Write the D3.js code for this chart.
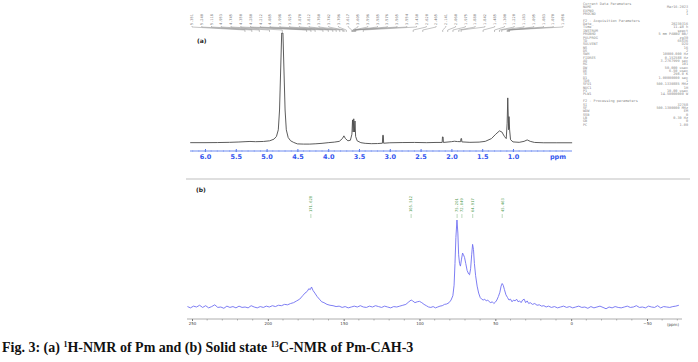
<!DOCTYPE html>
<html>
<head>
<meta charset="utf-8">
<script src="https://cdn.jsdelivr.net/npm/d3@7/dist/d3.min.js"></script>
<style>
html,body{margin:0;padding:0;background:#fff;}
svg{display:block;}
</style>
</head>
<body>
<svg id="chart" width="698" height="362"></svg>
<script>
// ---------- DATA ----------
// (a) 1H-NMR spectrum: [ppm, intensity]
const protonSpectrum = [
[6.24,0.3],[6.0,0.3],[5.8,0.4],[5.6,0.6],[5.45,0.9],[5.35,1.2],[5.27,1.4],[5.18,1.2],[5.05,1.4],
[4.95,2],[4.88,3.5],[4.84,6],[4.81,12],[4.79,30],[4.77,70],[4.755,100],[4.735,100],[4.72,70],
[4.70,30],[4.68,12],[4.65,5],[4.61,2],[4.56,0.5],[4.5,-0.8],[4.4,-1],[4.3,-1],[4.2,-0.7],[4.1,-0.3],
[4.0,0.3],[3.9,0.8],[3.82,1.5],[3.77,4],[3.745,6.5],[3.72,4],[3.68,2],[3.64,2.5],[3.615,8],[3.605,21],
[3.595,10],[3.585,22],[3.575,10],[3.565,20],[3.555,6],[3.53,2],[3.47,0.3],[3.4,-0.3],[3.3,-0.6],
[3.2,-0.5],[3.12,-0.2],[3.115,7],[3.105,7],[3.10,-0.2],[3.0,0.2],[2.8,0.4],[2.6,0.5],[2.4,0.3],
[2.25,0.5],[2.15,0.5],[2.145,5.5],[2.135,5.5],[2.13,0.5],[2.0,1.2],[1.95,1.6],[1.9,1.3],[1.85,1.2],
[1.845,4],[1.835,4],[1.83,1],[1.7,0.6],[1.55,0.8],[1.45,1.5],[1.35,4],[1.28,8],[1.22,11],[1.18,10],
[1.14,6],[1.11,4],[1.095,18],[1.085,41],[1.075,20],[1.07,12],[1.065,24],[1.055,12],[1.04,3],[1.0,1],
[0.9,0.6],[0.82,1.5],[0.77,2.8],[0.72,1.5],[0.65,0.5],[0.5,0.2],[0.3,0.2],[0.04,0.2]
];
const protonTicks = [6.0,5.5,5.0,4.5,4.0,3.5,3.0,2.5,2.0,1.5,1.0];
const protonPeakLabels = [5.351,5.240,5.118,4.953,4.745,4.350,4.280,4.212,4.085,3.998,3.925,3.870,
3.812,3.760,3.742,3.706,3.617,3.605,3.596,3.585,3.576,3.565,3.554,3.430,2.620,2.465,2.141,2.060,
1.975,1.880,1.842,1.485,1.300,1.220,1.183,1.095,1.083,1.070,1.058];

// (b) solid state 13C-NMR spectrum: [ppm, intensity]
const carbonSpectrum = [
[253,0.5],[251,-1],[249,1],[247,0],[245,2],[243,-0.5],[241,1.5],[239,-1],[237,0.5],[235,2.5],
[233,-0.5],[231,0],[229,-1.5],[227,1],[225,-0.5],[223,0.5],[221,-1],[219,1],[217,-0.5],[215,0],
[213,-1],[211,1.5],[209,0],[207,-1],[205,0.5],[203,-0.5],[201,1],[199,0],[197,1.5],[195,0.5],
[193,2],[191,1.5],[189,3],[187,2.5],[185,4],[183,5],[181,7],[179,9],[177,13],[175.5,16],[174,18],
[173,21],[172,20],[171.2,23],[170.2,19],[169,16],[167.5,12],[166,9],[164.5,6],[163,5],[161,3],
[159,2],[157,1.5],[155,0.5],[153,1],[151,-0.5],[149,0.5],[147,-1],[145,0],[143,1],[141,0],
[139,1.5],[137,0],[135,-0.5],[133,1],[131,0],[129,1.5],[127,0.5],[125,-0.5],[123,1],[121,0],
[119,-1],[117,0.5],[115,0],[113,1],[111,2],[109,3],[107,6],[105.5,8],[104.5,7],[103,5],[101.5,6],
[100,6.5],[98.5,5],[97,3],[95.5,1.5],[94,0],[92.5,-0.5],[91,0.5],[89.5,-1],[88,0],[86.5,1],
[85,1.5],[83.5,3],[82,3.5],[80.5,5],[79.2,8],[78,13],[77.2,25],[76.6,50],[76,80],[75.3,100],
[74.7,85],[74.2,60],[73.6,50],[73,47],[72.3,55],[71.6,62],[71,60],[70.3,57],[69.5,50],[68.6,42],
[67.6,38],[67,37],[66.3,44],[65.6,60],[65,72],[64.4,66],[63.8,50],[63,36],[62,24],[61,16],[60,11],
[59,9],[58,8],[57,9],[56,7],[55,8],[54,6],[53,5],[52,6],[51,4],[50,5.5],[49,8],[48,12],[47,17],
[46.2,24],[45.5,27],[44.8,25],[44,20],[43,14],[42,11],[41,8],[40,9],[39,6],[38,8],[37,7],[36,9],
[35,6],[34,7],[33,5],[32,8],[31,9],[30,5],[29,7],[28,4],[27,5],[25.5,3],[24,4],[22.5,2],[21,2.5],
[19.5,1],[18,1.5],[16.5,0],[15,1],[13,-0.5],[11,0.5],[9,-1],[7,0],[5,1],[3,-0.5],[1,0.5],[-1,-1],
[-3,0],[-5,1],[-7,-0.5],[-9,0],[-11,-1.5],[-13,0.5],[-15,-1],[-17,0],[-19,1],[-21,-0.5],[-23,-2],
[-25,0],[-27,-1],[-29,0.5],[-31,-0.5],[-33,-1],[-35,0],[-37,1],[-39,-0.5],[-41,0],[-43,1.5],
[-45,-0.5],[-47,0],[-49,-1],[-51,1],[-53,0],[-55,-0.5],[-57,1.5],[-59,-1],[-61,0.5],[-63,0],
[-65,-0.5],[-67,0.5],[-69,1],[-71,2]
];
const carbonTicks = [250,200,150,100,50,0,-50];
const carbonPeakLabels = [171.628,105.512,75.201,72.049,64.917,45.463];

// acquisition parameter block (text)
const paramLines = [
["Current Data Parameters",""],["NAME","Mar16-2023"],["EXPNO","1"],["PROCNO","1"],["",""],
["F2 - Acquisition Parameters",""],["Date_","20230316"],["Time","11.48 h"],["INSTRUM","spect"],
["PROBHD","5 mm PABBO BB/"],["PULPROG","zg30"],["TD","65536"],["SOLVENT","D2O"],["NS","16"],
["DS","2"],["SWH","10000.000 Hz"],["FIDRES","0.152588 Hz"],["AQ","3.2767999 sec"],["RG","101"],
["DW","50.000 usec"],["DE","6.50 usec"],["TE","298.0 K"],["D1","1.00000000 sec"],["TD0","1"],
["SFO1","500.1330885 MHz"],["NUC1","1H"],["P1","10.00 usec"],["PLW1","14.50000000 W"],["",""],
["F2 - Processing parameters",""],["SI","32768"],["SF","500.1300000 MHz"],["WDW","EM"],
["SSB","0"],["LB","0.30 Hz"],["GB","0"],["PC","1.00"]
];

// ---------- DRAW ----------
const svg = d3.select("#chart");
svg.append("rect").attr("width",698).attr("height",362).attr("fill","#fff");

// ===== Panel (a) =====
const xA = d3.scaleLinear().domain([6.0,1.0]).range([205,513]);
const yA = d3.scaleLinear().domain([0,100]).range([143,33]);

const gA = svg.append("g");
gA.append("path")
  .datum(protonSpectrum)
  .attr("fill","none")
  .attr("stroke","#4a4a4a")
  .attr("stroke-width",0.9)
  .attr("d", d3.line().x(d=>xA(d[0])).y(d=>yA(d[1])));

// axis (a)
const axA = d3.axisBottom(xA).tickValues(protonTicks).tickSize(2).tickFormat(d3.format(".1f"));
const axAg = gA.append("g").attr("transform","translate(0,151)").call(axA);
axAg.select(".domain").attr("stroke","#6f8cf0").attr("d","M190,0H572");
axAg.selectAll(".tick line").attr("stroke","#5577ee").attr("y1",-2).attr("y2",1);
axAg.selectAll(".tick text").attr("fill","#3355ee").attr("font-family","DejaVu Sans")
  .attr("font-weight","bold").attr("font-size",6.5).attr("dy","0.9em").attr("y",2);
// minor ticks
gA.append("g").selectAll("line").data(d3.range(62,1,-1).map(v=>v/10)).join("line")
  .attr("x1",d=>xA(d)).attr("x2",d=>xA(d)).attr("y1",150).attr("y2",152)
  .attr("stroke","#7f9af2").attr("stroke-width",0.6);
gA.append("text").attr("x",558).attr("y",159).attr("text-anchor","middle")
  .attr("fill","#3355ee").attr("font-family","DejaVu Sans").attr("font-weight","bold")
  .attr("font-size",6.5).text("ppm");

gA.append("text").attr("x",197).attr("y",43).attr("font-family","DejaVu Sans")
  .attr("font-weight","bold").attr("font-size",6).attr("fill","#222").text("(a)");

// peak labels fan (a)
const nLab = protonPeakLabels.length;
const labX = d3.scaleLinear().domain([0,nLab-1]).range([192,563]);
const fan = gA.append("g");
protonPeakLabels.forEach((p,i)=>{
  const lx = labX(i), px = xA(p);
  fan.append("text")
    .attr("transform",`translate(${lx+1.2},25) rotate(-90)`)
    .attr("font-family","DejaVu Sans Mono").attr("font-size",3.6).attr("fill","#777")
    .text(p.toFixed(3));
  fan.append("path")
    .attr("d",`M${lx},26 L${lx},27 L${px},30 L${px},32`)
    .attr("fill","none").attr("stroke","#888").attr("stroke-width",0.5);
});

// parameter block
const pg = svg.append("g").attr("font-family","DejaVu Sans Mono").attr("font-size",3.5).attr("fill","#8a8a8a");
paramLines.forEach((l,i)=>{
  const y = 5 + i*3.35;
  pg.append("text").attr("x",583).attr("y",y).text(l[0]);
  if(l[1]) pg.append("text").attr("x",688).attr("y",y).attr("text-anchor","end").text(l[1]);
});

// separator
svg.append("line").attr("x1",186).attr("x2",690).attr("y1",179).attr("y2",179)
  .attr("stroke","#d4d4d4").attr("stroke-width",1.5);

// ===== Panel (b) =====
const xB = d3.scaleLinear().domain([250,-50]).range([192,647]);
const yB = d3.scaleLinear().domain([0,100]).range([307,220]);
const gB = svg.append("g");

gB.append("path")
  .datum(carbonSpectrum)
  .attr("fill","none")
  .attr("stroke","#6f6ff2")
  .attr("stroke-width",0.9)
  .attr("d", d3.line().x(d=>xB(d[0])).y(d=>yB(d[1])));

gB.append("text").attr("x",196).attr("y",192).attr("font-family","DejaVu Sans")
  .attr("font-weight","bold").attr("font-size",6).attr("fill","#222").text("(b)");

// peak labels (b)
carbonPeakLabels.forEach(p=>{
  const x = xB(p);
  gB.append("text")
    .attr("transform",`translate(${x+1.3},212) rotate(-90)`)
    .attr("font-family","DejaVu Sans Mono").attr("font-size",3.8).attr("fill","#4f9a4f")
    .text(p.toFixed(3));
  gB.append("line").attr("x1",x).attr("x2",x).attr("y1",214).attr("y2",218)
    .attr("stroke","#8fbf8f").attr("stroke-width",0.6);
});

// axis (b)
const axB = d3.axisBottom(xB).tickValues(carbonTicks).tickSize(2).tickFormat(d3.format("d"));
const axBg = gB.append("g").attr("transform","translate(0,319)").call(axB);
axBg.select(".domain").attr("stroke","#999").attr("stroke-width",0.8).attr("d","M187,0H682");
axBg.selectAll(".tick line").attr("stroke","#777");
axBg.selectAll(".tick text").attr("fill","#444").attr("font-family","DejaVu Sans")
  .attr("font-size",4).attr("y",3.5);
gB.append("g").selectAll("line").data(d3.range(250,-71,-10).filter(v=>v%50!==0)).join("line")
  .attr("x1",d=>xB(d)).attr("x2",d=>xB(d)).attr("y1",319).attr("y2",320.5)
  .attr("stroke","#888").attr("stroke-width",0.6);
gB.append("text").attr("x",673).attr("y",326).attr("text-anchor","middle")
  .attr("font-family","DejaVu Sans").attr("font-size",4).attr("fill","#444").text("(ppm)");

// caption
const cap = svg.append("text").attr("x",2).attr("y",352)
  .attr("font-family","Liberation Serif").attr("font-weight","bold").attr("font-size",14).attr("fill","#111");
cap.append("tspan").text("Fig. 3: (a) ");
cap.append("tspan").attr("font-size",8).attr("dy",-5).text("1");
cap.append("tspan").attr("dy",5).text("H-NMR of Pm and (b) Solid state ");
cap.append("tspan").attr("font-size",8).attr("dy",-5).text("13");
cap.append("tspan").attr("dy",5).text("C-NMR of Pm-CAH-3");
</script>
</body>
</html>
